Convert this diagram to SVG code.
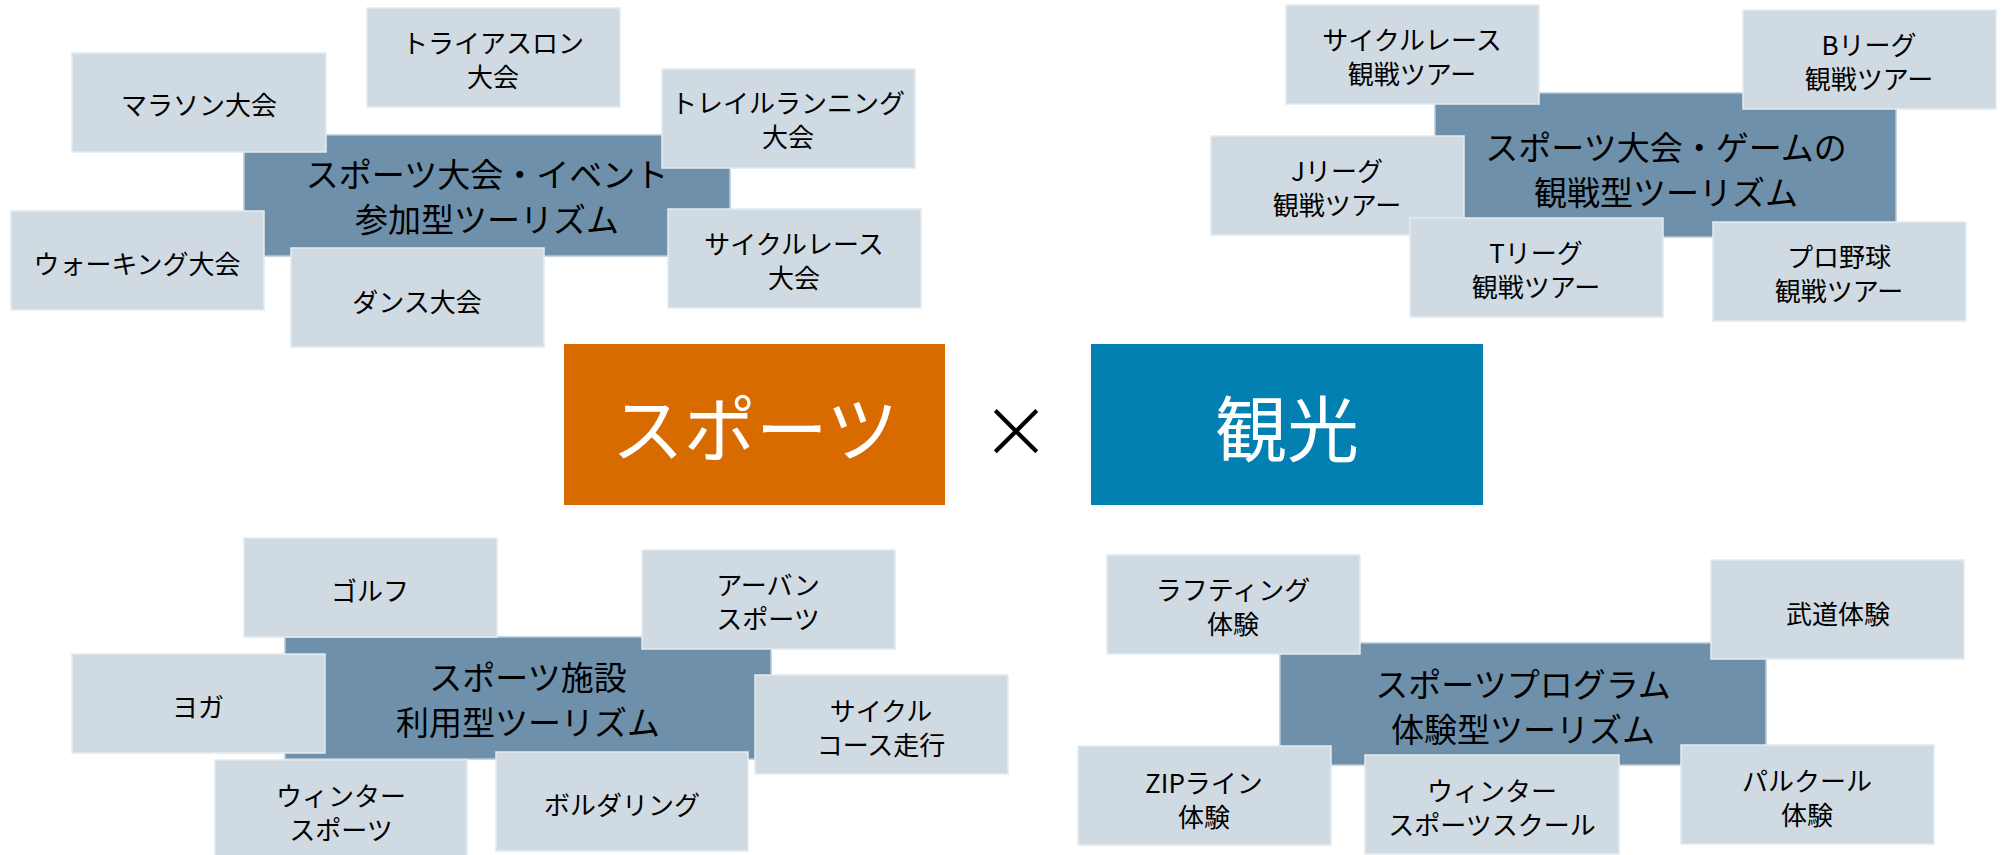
<svg xmlns="http://www.w3.org/2000/svg" width="2004" height="855" viewBox="0 0 2004 855">
<style>
text{font-family:"Noto Sans CJK JP","Noto Sans",sans-serif;text-anchor:middle;dominant-baseline:central;fill:#000}
.s{fill:#D0DAE2;stroke:#E4EAEF;stroke-width:1.5}
.c{fill:#6E90AA;stroke:#B8C8D4;stroke-width:1.5}
.st{font-size:26px}
.ct{font-size:33px}
.bt{font-size:72px;fill:#fff}
</style>
<rect width="2004" height="855" fill="#fff"/>
<g id="connectors"></g>

<!-- Top-left cluster -->
<g id="event"><rect class="c" x="244" y="135" width="486" height="121"/><text class="ct" x="487" y="173">スポーツ大会・イベント</text><text class="ct" x="487" y="218">参加型ツーリズム</text></g>
<g id="triathlon"><rect class="s" x="367" y="8" width="253" height="99"/><text class="st" x="493" y="41">トライアスロン</text><text class="st" x="493" y="75">大会</text></g>
<g id="marathon"><rect class="s" x="72" y="53" width="254" height="99"/><text class="st" x="199" y="103">マラソン大会</text></g>
<g id="trail"><rect class="s" x="662" y="69" width="253" height="99"/><text class="st" x="788" y="101">トレイルランニング</text><text class="st" x="788" y="135">大会</text></g>
<g id="walking"><rect class="s" x="11" y="211" width="253" height="99"/><text class="st" x="137" y="262">ウォーキング大会</text></g>
<g id="dance"><rect class="s" x="291" y="248" width="253" height="99"/><text class="st" x="417" y="300">ダンス大会</text></g>
<g id="cycle-race"><rect class="s" x="668" y="209" width="253" height="99"/><text class="st" x="794" y="242">サイクルレース</text><text class="st" x="794" y="276">大会</text></g>

<!-- Top-right cluster -->
<g id="watch"><rect class="c" x="1435" y="93" width="461" height="144"/><text class="ct" x="1666" y="146">スポーツ大会・ゲームの</text><text class="ct" x="1666" y="191">観戦型ツーリズム</text></g>
<g id="cycle-tour"><rect class="s" x="1286" y="5" width="253" height="99"/><text class="st" x="1412" y="38">サイクルレース</text><text class="st" x="1412" y="72">観戦ツアー</text></g>
<g id="bleague"><rect class="s" x="1743" y="10" width="253" height="99"/><text class="st" x="1869" y="43">Bリーグ</text><text class="st" x="1869" y="77">観戦ツアー</text></g>
<g id="jleague"><rect class="s" x="1211" y="136" width="253" height="99"/><text class="st" x="1337" y="169">Jリーグ</text><text class="st" x="1337" y="203">観戦ツアー</text></g>
<g id="tleague"><rect class="s" x="1410" y="218" width="253" height="99"/><text class="st" x="1536" y="251">Tリーグ</text><text class="st" x="1536" y="285">観戦ツアー</text></g>
<g id="baseball"><rect class="s" x="1713" y="222" width="253" height="99"/><text class="st" x="1839" y="255">プロ野球</text><text class="st" x="1839" y="289">観戦ツアー</text></g>

<!-- Center -->
<g id="sports"><rect x="564" y="344" width="381" height="161" fill="#D86B00"/><text class="bt" x="755" y="424">スポーツ</text></g>
<g id="times"><text x="1016" y="428" style="font-size:86px;font-family:'DejaVu Sans',sans-serif;font-weight:300">×</text></g>
<g id="kanko"><rect x="1091" y="344" width="392" height="161" fill="#0280B2"/><text class="bt" x="1287" y="424">観光</text></g>

<!-- Bottom-left cluster -->
<g id="facility"><rect class="c" x="285" y="637" width="486" height="122"/><text class="ct" x="528" y="676">スポーツ施設</text><text class="ct" x="528" y="721">利用型ツーリズム</text></g>
<g id="golf"><rect class="s" x="244" y="538" width="253" height="99"/><text class="st" x="370" y="589">ゴルフ</text></g>
<g id="urban"><rect class="s" x="642" y="550" width="253" height="99"/><text class="st" x="768" y="583">アーバン</text><text class="st" x="768" y="617">スポーツ</text></g>
<g id="yoga"><rect class="s" x="72" y="654" width="253" height="99"/><text class="st" x="198" y="705">ヨガ</text></g>
<g id="cycle-course"><rect class="s" x="755" y="675" width="253" height="99"/><text class="st" x="881" y="709">サイクル</text><text class="st" x="881" y="743">コース走行</text></g>
<g id="winter"><rect class="s" x="215" y="760" width="252" height="99"/><text class="st" x="341" y="794">ウィンター</text><text class="st" x="341" y="828">スポーツ</text></g>
<g id="bouldering"><rect class="s" x="496" y="752" width="252" height="99"/><text class="st" x="622" y="803">ボルダリング</text></g>

<!-- Bottom-right cluster -->
<g id="program"><rect class="c" x="1280" y="643" width="486" height="122"/><text class="ct" x="1523" y="683">スポーツプログラム</text><text class="ct" x="1523" y="728">体験型ツーリズム</text></g>
<g id="rafting"><rect class="s" x="1107" y="555" width="253" height="99"/><text class="st" x="1233" y="588">ラフティング</text><text class="st" x="1233" y="622">体験</text></g>
<g id="budo"><rect class="s" x="1711" y="560" width="253" height="99"/><text class="st" x="1838" y="612">武道体験</text></g>
<g id="zipline"><rect class="s" x="1078" y="746" width="253" height="99"/><text class="st" x="1204" y="781">ZIPライン</text><text class="st" x="1204" y="815">体験</text></g>
<g id="winter-school"><rect class="s" x="1365" y="755" width="254" height="99"/><text class="st" x="1492" y="789">ウィンター</text><text class="st" x="1492" y="823">スポーツスクール</text></g>
<g id="parkour"><rect class="s" x="1681" y="745" width="253" height="99"/><text class="st" x="1807" y="779">パルクール</text><text class="st" x="1807" y="813">体験</text></g>
</svg>
